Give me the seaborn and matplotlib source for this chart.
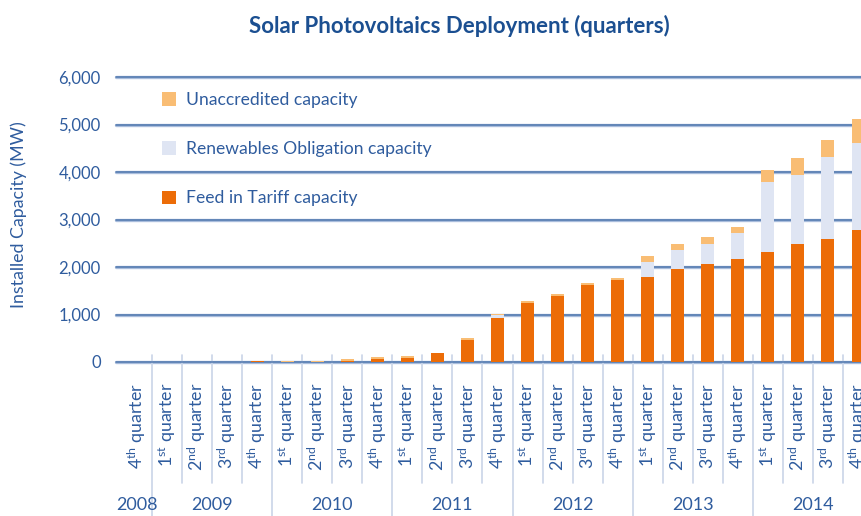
import matplotlib
matplotlib.use("Agg")
import matplotlib.pyplot as plt
import matplotlib.transforms as mtransforms
from matplotlib.patches import Patch
import pandas as pd
import seaborn as sns

# Quarterly installed solar PV capacity (MW), Q4 2008 - Q4 2014
period_year = [2008,
               2009, 2009, 2009, 2009,
               2010, 2010, 2010, 2010,
               2011, 2011, 2011, 2011,
               2012, 2012, 2012, 2012,
               2013, 2013, 2013, 2013,
               2014, 2014, 2014, 2014]
period_quarter = [4,
                  1, 2, 3, 4,
                  1, 2, 3, 4,
                  1, 2, 3, 4,
                  1, 2, 3, 4,
                  1, 2, 3, 4,
                  1, 2, 3, 4]
fit_capacity = [0,
                0, 0, 0, 30,
                0, 0, 15, 55,
                91, 190, 463, 926,
                1242, 1389, 1621, 1726,
                1789, 1958, 2063, 2168,
                2316, 2484, 2589, 2779]
ro_capacity = [0,
               0, 0, 0, 0,
               0, 0, 0, 0,
               0, 0, 0, 63,
               0, 0, 0, 0,
               316, 400, 421, 548,
               1473, 1453, 1727, 1831]
unaccredited_capacity = [0,
                         0, 0, 0, 0,
                         30, 30, 40, 40,
                         35, 0, 42, 21,
                         42, 43, 42, 42,
                         127, 126, 148, 126,
                         253, 358, 358, 506]

series_labels = ["Unaccredited capacity",
                 "Renewables Obligation capacity",
                 "Feed in Tariff capacity"]
y_ticks = [0, 1000, 2000, 3000, 4000, 5000, 6000]

C_FIT = "#EC6C07"
C_RO = "#DFE5F3"
C_UNACC = "#F9BD74"
C_TEXT = "#2F5C9E"
C_TITLE = "#1B4F91"
C_GRID = "#4F77AE"
C_SEP = "#C9D4E8"

sns.set_theme(style="white")
FONT = "Lato"
plt.rcParams["font.family"] = [FONT, "DejaVu Sans"]
plt.rcParams["mathtext.fontset"] = "custom"
plt.rcParams["mathtext.rm"] = FONT
plt.rcParams["mathtext.it"] = FONT

df = pd.DataFrame({
    "period": list(range(len(period_year))),
    "fit": fit_capacity,
    "ro": ro_capacity,
    "unacc": unaccredited_capacity,
})
df["fit_ro"] = df["fit"] + df["ro"]
df["total"] = df["fit_ro"] + df["unacc"]

W, H = 861, 516
fig = plt.figure(figsize=(W / 100, H / 100), dpi=100)
ax_left, ax_right, ax_top, ax_bottom = 116, 861, 77, 362
ax = fig.add_axes([ax_left / W, 1 - ax_bottom / H,
                   (ax_right - ax_left) / W, (ax_bottom - ax_top) / H])

# stacked bars: draw cumulative totals back to front
bar_kw = dict(data=df, x="period", width=0.43, saturation=1,
              linewidth=0, errorbar=None, ax=ax, zorder=3)
sns.barplot(y="total", color=C_UNACC, **bar_kw)
sns.barplot(y="fit_ro", color=C_RO, **bar_kw)
sns.barplot(y="fit", color=C_FIT, **bar_kw)

ax.set_xlim(-0.7, 24.1)
ax.set_ylim(0, 6000)
for s in ax.spines.values():
    s.set_visible(False)

# horizontal gridlines
ax.set_yticks(y_ticks)
ax.set_yticklabels([f"{v:,}" for v in y_ticks])
for v in y_ticks:
    ax.axhline(v, color="#A9BDDC", lw=2.4, zorder=1, clip_on=False)
    ax.axhline(v, color=C_GRID, lw=1.1, zorder=2, clip_on=False)
ax.tick_params(axis="y", length=0, pad=11, labelsize=12, labelcolor=C_TEXT)

# quarter labels
suffix = {1: "st", 2: "nd", 3: "rd", 4: "th"}
qlabels = [f"{q}$^{{\\mathrm{{{suffix[q]}}}}}$ quarter" for q in period_quarter]
ax.set_xticks(df["period"])
ax.set_xticklabels(qlabels)
ax.tick_params(axis="x", length=0, pad=15, labelsize=12.8, labelcolor=C_TEXT,
               labelrotation=90)
ax.set_xlabel("")

ax.set_ylabel("Installed Capacity (MW)", fontsize=12.8, color=C_TEXT)
ax.yaxis.set_label_coords((27 - ax_left) / (ax_right - ax_left),
                          (ax_bottom - 215) / (ax_bottom - ax_top))

# category separators below the axis
tr = mtransforms.blended_transform_factory(ax.transData, ax.transAxes)
h = ax_bottom - ax_top
y_top = 7 / h
y_q = -(483 - ax_bottom) / h
y_y = -(H - ax_bottom) / h
for i in range(len(period_year) - 1):
    new_year = period_year[i + 1] != period_year[i]
    ax.plot([i + 0.5, i + 0.5], [y_top, y_y if new_year else y_q],
            color=C_SEP, lw=1.2, transform=tr, clip_on=False, zorder=1)

# year labels
years = sorted(set(period_year))
trf = mtransforms.blended_transform_factory(ax.transData, fig.transFigure)
for yr in years:
    idx = [i for i, v in enumerate(period_year) if v == yr]
    xc = sum(idx) / len(idx)
    ax.text(xc, 1 - 505 / H, str(yr), transform=trf, ha="center", va="center",
            fontsize=13, color=C_TEXT, clip_on=False)

# legend
handles = [Patch(facecolor=c, edgecolor="none") for c in (C_UNACC, C_RO, C_FIT)]
leg = ax.legend(handles, series_labels, loc="upper left",
                bbox_to_anchor=(162 / W, 1 - 92 / H),
                bbox_transform=fig.transFigure, frameon=False,
                fontsize=12.6, labelcolor=C_TEXT, handlelength=0.8,
                handleheight=0.8, handletextpad=0.6, labelspacing=1.9,
                borderaxespad=0, borderpad=0)

fig.text(459 / W, 1 - 26 / H, "Solar Photovoltaics Deployment (quarters)",
         ha="center", va="center", fontsize=16, fontweight="bold",
         color=C_TITLE)

fig.savefig("out.png", dpi=100)
